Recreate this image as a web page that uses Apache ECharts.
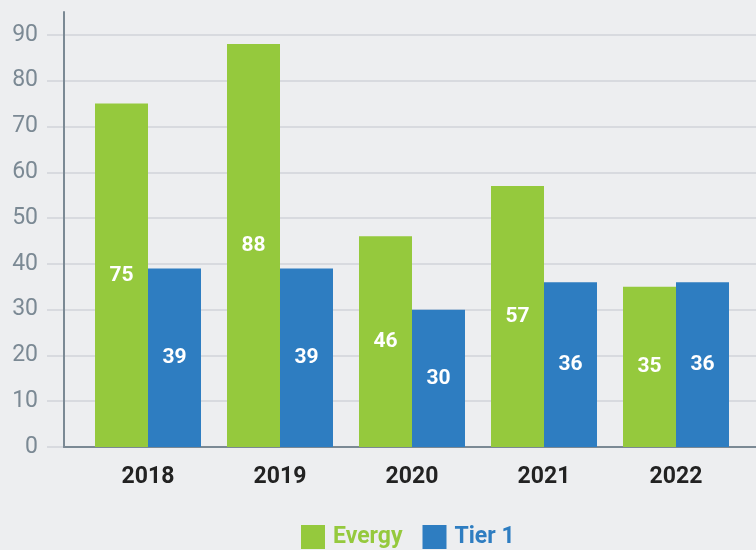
<!DOCTYPE html>
<html>
<head>
<meta charset="utf-8">
<script src="https://cdn.jsdelivr.net/npm/echarts@6/dist/echarts.min.js"></script>
<style>
  html, body { margin: 0; padding: 0; background: #edeef0; }
  #chart { width: 756px; height: 550px; }
</style>
</head>
<body>
<div id="chart"></div>
<script>
// Annual values per year
const years = ['2018', '2019', '2020', '2021', '2022'];
const evergy = [75, 88, 46, 57, 35];
const tier1 = [39, 39, 30, 36, 36];

// Value axis range and step
const yMin = 0;
const yMax = 95;
const yStep = 10;

const GREEN = '#95c93d';
const BLUE = '#2e7dc1';
const AXIS = '#7b8994';
const GRID = '#d8dadf';
const FONT = 'Roboto, "Noto Sans", sans-serif';

// One colour per split line; the top edge (95) gets no line
const splitColors = [];
for (let v = yMin; v <= 90; v += yStep) splitColors.push(GRID);
splitColors.push('rgba(0,0,0,0)');

const chart = echarts.init(document.getElementById('chart'), null, { renderer: 'canvas' });

const labelStyle = {
  show: true,
  position: 'inside',
  color: '#ffffff',
  fontFamily: FONT,
  fontWeight: 'bold',
  fontSize: 21
};

chart.setOption({
  backgroundColor: '#edeef0',
  animation: false,
  textStyle: { fontFamily: FONT },
  grid: [
    // gridlines and tick labels
    { left: 47, right: 0, top: 12, bottom: 103 },
    // axis lines
    { left: 64, right: 0, top: 12, bottom: 103 },
    // bars
    { left: 82, right: 14, top: 12, bottom: 103 }
  ],
  xAxis: [
    { gridIndex: 0, type: 'value', show: false },
    {
      gridIndex: 1, type: 'category', data: [''],
      axisLine: { show: true, lineStyle: { color: AXIS, width: 2 } },
      axisTick: { show: false }, axisLabel: { show: false }, splitLine: { show: false }
    },
    {
      gridIndex: 2, type: 'category', data: years,
      axisLine: { show: false }, axisTick: { show: false },
      axisLabel: {
        margin: 19, color: '#222222', fontFamily: FONT,
        fontWeight: 'bold', fontSize: 23
      }
    }
  ],
  yAxis: [
    {
      gridIndex: 0, type: 'value', min: yMin, max: yMax, interval: yStep,
      axisLine: { show: false }, axisTick: { show: false },
      axisLabel: {
        margin: 9, color: AXIS, fontFamily: FONT, fontSize: 23,
        showMaxLabel: false
      },
      splitLine: { show: true, lineStyle: { color: splitColors, width: 2 } }
    },
    {
      gridIndex: 1, type: 'value', min: yMin, max: yMax, interval: yStep,
      axisLine: { show: true, lineStyle: { color: AXIS, width: 2 } },
      axisTick: { show: false }, axisLabel: { show: false }, splitLine: { show: false }
    },
    {
      gridIndex: 2, type: 'value', min: yMin, max: yMax, interval: yStep,
      show: false, splitLine: { show: false }
    }
  ],
  legend: {
    left: 301,
    top: 525,
    padding: 0,
    itemWidth: 24,
    itemHeight: 24,
    itemGap: 20,
    icon: 'rect',
    textStyle: { fontFamily: FONT, fontWeight: 'bold', fontSize: 23, padding: [0, 0, 0, 3] },
    data: [
      { name: 'Evergy', textStyle: { color: GREEN } },
      { name: 'Tier 1', textStyle: { color: BLUE } }
    ]
  },
  series: [
    {
      name: 'Evergy', type: 'bar', data: evergy,
      xAxisIndex: 2, yAxisIndex: 2,
      barWidth: 53, barGap: '0%',
      itemStyle: { color: GREEN },
      label: labelStyle
    },
    {
      name: 'Tier 1', type: 'bar', data: tier1,
      xAxisIndex: 2, yAxisIndex: 2,
      barWidth: 53, barGap: '0%',
      itemStyle: { color: BLUE },
      label: labelStyle
    }
  ]
});
</script>
</body>
</html>
